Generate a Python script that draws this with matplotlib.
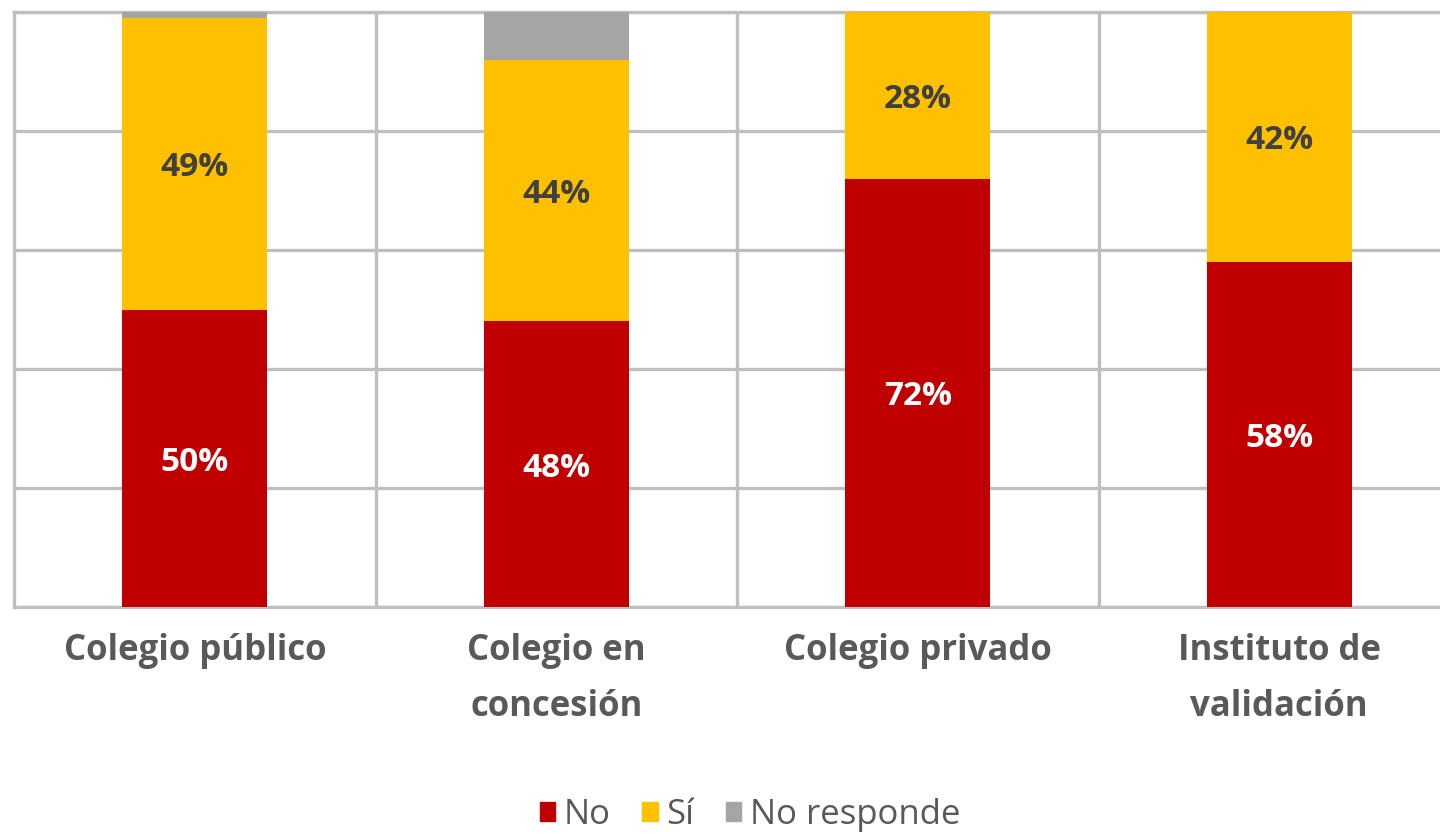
import matplotlib.pyplot as plt
from matplotlib.patches import Patch

plt.rcParams['font.family'] = ['Open Sans', 'DejaVu Sans']

categories = ['Colegio público', 'Colegio en\nconcesión', 'Colegio privado', 'Instituto de\nvalidación']
no_vals = [50, 48, 72, 58]
si_vals = [49, 44, 28, 42]
nr_vals = [1, 8, 0, 0]
series = ['No', 'Sí', 'No responde']

colors = ['#C00000', '#FFC000', '#A5A5A5']
grid_c = '#BFBFBF'

fig = plt.figure(figsize=(14.4, 8.35), dpi=100)
ax = fig.add_axes([14 / 1440, 1 - 607 / 835, 1 - 14 / 1440, (607 - 12) / 835])

x = list(range(len(categories)))
w = 0.40
bottom = [0] * len(x)
for vals, col in zip([no_vals, si_vals, nr_vals], colors):
    ax.bar(x, vals, w, bottom=bottom, color=col, zorder=3)
    bottom = [b + v for b, v in zip(bottom, vals)]

# value labels
for i in x:
    ax.text(i, no_vals[i] / 2, f'{no_vals[i]}%', ha='center', va='center_baseline',
            color='white', fontsize=24, fontweight='bold', zorder=4)
    ax.text(i, no_vals[i] + si_vals[i] / 2, f'{si_vals[i]}%', ha='center', va='center_baseline',
            color='#404040', fontsize=24, fontweight='bold', zorder=4)

ax.set_ylim(0, 100)
ax.set_xlim(-0.5, 3.5 - 20 / 361)
ax.set_yticks([0, 20, 40, 60, 80, 100])
ax.yaxis.grid(True, color=grid_c, linewidth=2.4, zorder=0)
for b in [0.5, 1.5, 2.5]:
    ax.axvline(b, color=grid_c, linewidth=2.4, zorder=0)
ax.tick_params(axis='y', length=0, labelleft=False)
ax.tick_params(axis='x', length=0, pad=19)
ax.set_xticks(x)
ax.set_xticklabels(categories, fontsize=25, fontweight='bold', color='#595959', linespacing=1.72, va='top')
for s in ['left', 'bottom', 'top']:
    ax.spines[s].set_color(grid_c)
    ax.spines[s].set_linewidth(2.4)
ax.spines['right'].set_visible(False)

handles = [Patch(color=c) for c in colors]
fig.legend(handles, series, loc='center', bbox_to_anchor=(750 / 1440, 1 - 815 / 835), ncol=3,
           frameon=False, fontsize=25, handlelength=0.45, handleheight=0.45, handletextpad=0.25,
           columnspacing=0.9, labelcolor='#595959')

fig.savefig('out.png', dpi=100)
